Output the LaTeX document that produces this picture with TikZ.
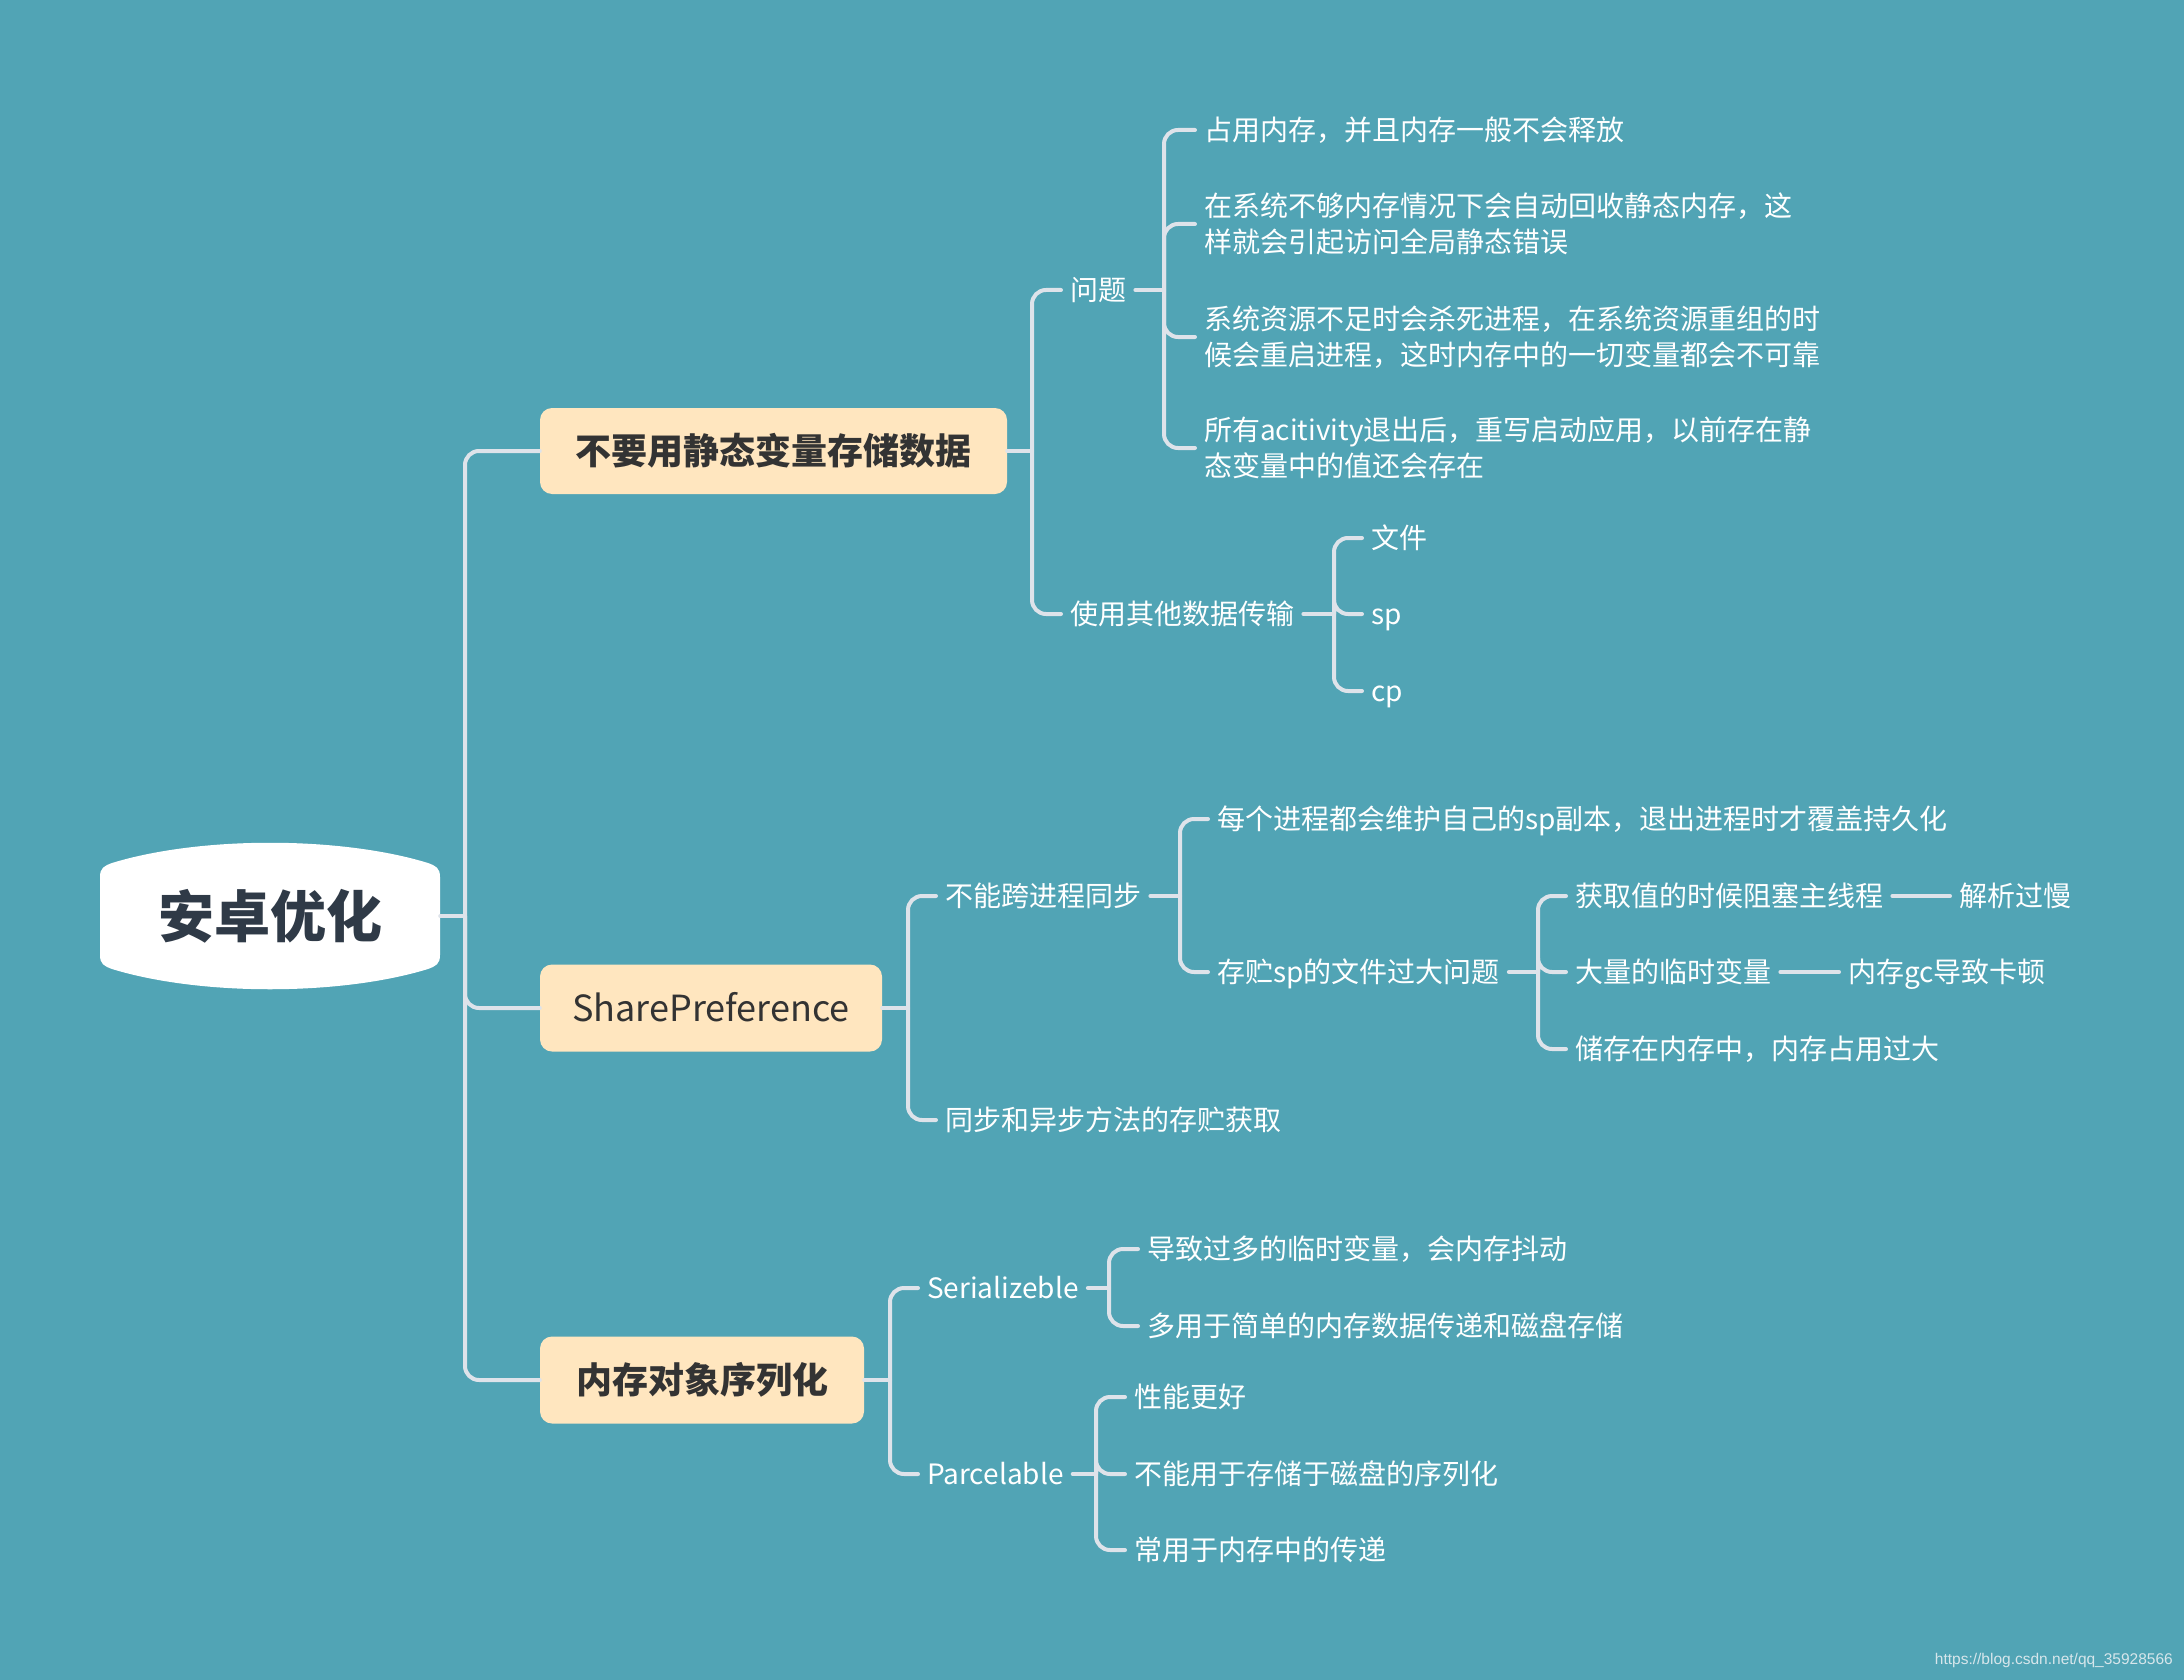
\documentclass[tikz,border=0pt]{standalone}
\usepackage{fontspec}
\setmainfont{Noto Sans CJK SC}
\newfontfamily\wmfont{Liberation Sans}
\definecolor{bg}{RGB}{81,164,181}
\definecolor{peach}{RGB}{255,230,191}
\definecolor{linec}{RGB}{222,227,234}
\definecolor{darktxt}{RGB}{51,51,51}
\definecolor{roottxt}{RGB}{47,58,71}
\definecolor{wmc}{RGB}{215,230,235}
\tikzset{
  conn/.style={draw=linec, line width=4pt, rounded corners=14pt, line cap=round},
  leafbase/.style={text=white, inner xsep=9pt, inner ysep=0pt, anchor=west,
    font=\fontsize{28pt}{36pt}\selectfont},
  leaf/.style={leafbase, text height=24.6pt, text depth=3.4pt},
  leaftwo/.style={leafbase, align=left},
  topic/.style={fill=peach, rounded corners=12pt, text=darktxt, inner sep=0pt,
    font=\fontsize{36pt}{42pt}\selectfont, text height=31.7pt, text depth=4.3pt},
}
\begin{document}
\begin{tikzpicture}[x=1pt,y=-1pt]
\useasboundingbox (0,0) rectangle (2184,1680);
\fill[bg] (0,0) rectangle (2184,1680);

% root shape
\fill[white] (100,877) .. controls (100,868) and (104,866) .. (112,863)
  .. controls (200,836) and (340,836) .. (428,863)
  .. controls (436,866) and (440,868) .. (440,877) -- (440,955)
  .. controls (440,964) and (436,966) .. (428,969)
  .. controls (340,996) and (200,996) .. (112,969)
  .. controls (104,966) and (100,964) .. (100,955) -- cycle;
\node[minimum width=340pt, minimum height=100pt, inner sep=0pt, text=roottxt,
  font=\bfseries\fontsize{56pt}{60pt}\selectfont] (root) at (270,916) {安卓优化};

% main topics
\node[topic, minimum width=467pt, minimum height=86pt, font=\bfseries\fontsize{36pt}{42pt}\selectfont] (n1) at (773.5,451) {不要用静态变量存储数据};
\node[topic, minimum width=342pt, minimum height=87pt] (n2) at (711,1008) {SharePreference};
\node[topic, minimum width=324pt, minimum height=87pt, font=\bfseries\fontsize{36pt}{42pt}\selectfont] (n3) at (702,1380) {内存对象序列化};

\coordinate (T0) at (465,916);
\draw[conn] (root.east) -- (T0);
\draw[conn] (T0) |- (n1.west);
\draw[conn] (T0) |- (n2.west);
\draw[conn] (T0) |- (n3.west);

% branch 1
\node[leaf] (wenti) at (1061,290) {问题};
\node[leaf] (qita) at (1061,614) {使用其他数据传输};
\coordinate (T1) at (1032,451);
\draw[conn] (n1.east) -- (T1);
\draw[conn] (T1) |- (wenti.west);
\draw[conn] (T1) |- (qita.west);

\node[leaf] (a1) at (1195,130) {占用内存，并且内存一般不会释放};
\node[leaftwo] (a2) at (1195,224) {在系统不够内存情况下会自动回收静态内存，这\\样就会引起访问全局静态错误};
\node[leaftwo] (a3) at (1195,337) {系统资源不足时会杀死进程，在系统资源重组的时\\候会重启进程，这时内存中的一切变量都会不可靠};
\node[leaftwo] (a4) at (1195,448) {所有acitivity退出后，重写启动应用，以前存在静\\态变量中的值还会存在};
\coordinate (T11) at (1164,290);
\draw[conn] (wenti.east) -- (T11);
\foreach \c in {a1,a2,a3,a4} \draw[conn] (T11) |- (\c.west);

\node[leaf] (wj) at (1362,538) {文件};
\node[leaf] (sp) at (1362,614) {sp};
\node[leaf] (cp) at (1362,691) {cp};
\coordinate (T12) at (1334,614);
\draw[conn] (qita.east) -- (T12);
\foreach \c in {wj,sp,cp} \draw[conn] (T12) |- (\c.west);

% branch 2
\node[leaf] (b1) at (936,896) {不能跨进程同步};
\node[leaf] (b2) at (936,1120) {同步和异步方法的存贮获取};
\coordinate (T2) at (908,1008);
\draw[conn] (n2.east) -- (T2);
\draw[conn] (T2) |- (b1.west);
\draw[conn] (T2) |- (b2.west);

\node[leaf] (b11) at (1208,819) {每个进程都会维护自己的sp副本，退出进程时才覆盖持久化};
\node[leaf] (b12) at (1208,972) {存贮sp的文件过大问题};
\coordinate (T21) at (1180,896);
\draw[conn] (b1.east) -- (T21);
\draw[conn] (T21) |- (b11.west);
\draw[conn] (T21) |- (b12.west);

\node[leaf] (c1) at (1566,896) {获取值的时候阻塞主线程};
\node[leaf] (c2) at (1566,972) {大量的临时变量};
\node[leaf] (c3) at (1566,1049) {储存在内存中，内存占用过大};
\coordinate (T22) at (1538,972);
\draw[conn] (b12.east) -- (T22);
\foreach \c in {c1,c2,c3} \draw[conn] (T22) |- (\c.west);

\node[leaf] (d1) at (1950,896) {解析过慢};
\node[leaf] (d2) at (1839,972) {内存gc导致卡顿};
\draw[conn] (c1.east) -- (d1.west);
\draw[conn] (c2.east) -- (d2.west);

% branch 3
\node[leaf] (s1) at (918,1288) {Serializeble};
\node[leaf] (s2) at (918,1474) {Parcelable};
\coordinate (T3) at (890,1380);
\draw[conn] (n3.east) -- (T3);
\draw[conn] (T3) |- (s1.west);
\draw[conn] (T3) |- (s2.west);

\node[leaf] (e1) at (1138,1249) {导致过多的临时变量，会内存抖动};
\node[leaf] (e2) at (1138,1326) {多用于简单的内存数据传递和磁盘存储};
\coordinate (T31) at (1109,1288);
\draw[conn] (s1.east) -- (T31);
\draw[conn] (T31) |- (e1.west);
\draw[conn] (T31) |- (e2.west);

\node[leaf] (f1) at (1125,1397) {性能更好};
\node[leaf] (f2) at (1125,1474) {不能用于存储于磁盘的序列化};
\node[leaf] (f3) at (1125,1550) {常用于内存中的传递};
\coordinate (T32) at (1096,1474);
\draw[conn] (s2.east) -- (T32);
\foreach \c in {f1,f2,f3} \draw[conn] (T32) |- (\c.west);

% watermark
\node[anchor=east, inner sep=0pt, text=wmc, font=\wmfont\fontsize{15.5pt}{18pt}\selectfont] (wm) at (2173,1660) {https://blog.csdn.net/qq\_35928566};
\end{tikzpicture}
\end{document}
